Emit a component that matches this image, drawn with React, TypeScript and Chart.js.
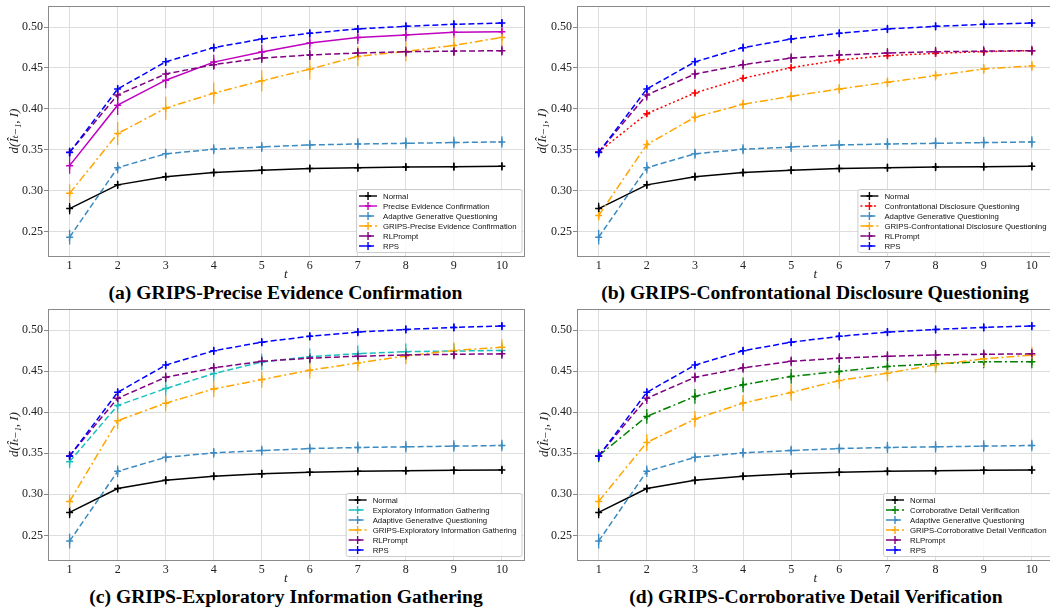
import React, { useEffect, useRef } from 'react';
import { Chart, registerables } from 'chart.js';

Chart.register(...registerables);

// ---------- data ----------
const tSteps = [1, 2, 3, 4, 5, 6, 7, 8, 9, 10];
const yTickValues = [0.25, 0.3, 0.35, 0.4, 0.45, 0.5];

const normalMean = [0.278, 0.307, 0.317, 0.322, 0.325, 0.327, 0.328, 0.3288, 0.3292, 0.3297];
const normalErr = [0.007, 0.005, 0.005, 0.005, 0.005, 0.005, 0.005, 0.005, 0.005, 0.005];

const agqMean = [0.243, 0.328, 0.345, 0.3505, 0.3533, 0.3558, 0.357, 0.3578, 0.3587, 0.3595];
const agqErr = [0.009, 0.007, 0.006, 0.006, 0.006, 0.006, 0.007, 0.007, 0.007, 0.007];

const rlpromptMean = [0.347, 0.417, 0.4425, 0.454, 0.462, 0.4658, 0.4682, 0.4698, 0.4705, 0.4711];
const rlpromptErr = [0.005, 0.007, 0.006, 0.006, 0.006, 0.006, 0.006, 0.006, 0.006, 0.006];

const rpsMean = [0.3465, 0.4242, 0.4574, 0.4748, 0.4853, 0.4924, 0.4976, 0.5008, 0.5033, 0.5049];
const rpsErr = [0.006, 0.005, 0.005, 0.005, 0.005, 0.005, 0.005, 0.005, 0.005, 0.005];

const pecMean = [0.3305, 0.4044, 0.435, 0.4571, 0.4694, 0.4804, 0.4873, 0.4902, 0.4935, 0.4943];
const pecErr = [0.01, 0.012, 0.01, 0.009, 0.009, 0.008, 0.008, 0.008, 0.007, 0.007];
const gripsPecMean = [0.2966, 0.3697, 0.4007, 0.4191, 0.4342, 0.4485, 0.4641, 0.4702, 0.4775, 0.4873];
const gripsPecErr = [0.011, 0.014, 0.014, 0.013, 0.013, 0.013, 0.012, 0.012, 0.012, 0.011];

const cdqMean = [0.3473, 0.394, 0.4194, 0.4373, 0.4503, 0.4597, 0.465, 0.4678, 0.4699, 0.4711];
const cdqErr = [0.004, 0.004, 0.004, 0.004, 0.004, 0.004, 0.004, 0.004, 0.004, 0.004];
const gripsCdqMean = [0.2695, 0.3563, 0.3897, 0.4055, 0.4153, 0.4243, 0.4324, 0.4406, 0.4487, 0.4524];
const gripsCdqErr = [0.006, 0.006, 0.006, 0.006, 0.006, 0.006, 0.006, 0.006, 0.006, 0.006];

const eigMean = [0.3398, 0.4082, 0.4288, 0.447, 0.4612, 0.4676, 0.4713, 0.4737, 0.4745, 0.4753];
const eigErr = [0.008, 0.01, 0.01, 0.01, 0.01, 0.01, 0.01, 0.01, 0.009, 0.009];
const gripsEigMean = [0.2913, 0.3896, 0.411, 0.4284, 0.4397, 0.4511, 0.46, 0.4685, 0.4753, 0.479];
const gripsEigErr = [0.008, 0.01, 0.01, 0.01, 0.01, 0.01, 0.01, 0.01, 0.01, 0.01];

const cdvMean = [0.347, 0.3949, 0.4192, 0.4334, 0.4436, 0.4497, 0.4558, 0.459, 0.4614, 0.4614];
const cdvErr = [0.008, 0.009, 0.009, 0.009, 0.009, 0.008, 0.008, 0.008, 0.008, 0.008];
const gripsCdvMean = [0.2914, 0.3632, 0.3916, 0.4111, 0.4241, 0.4387, 0.4476, 0.4578, 0.4651, 0.4696];
const gripsCdvErr = [0.008, 0.01, 0.01, 0.01, 0.01, 0.01, 0.01, 0.01, 0.01, 0.01];

const captions = [
  '(a) GRIPS-Precise Evidence Confirmation',
  '(b) GRIPS-Confrontational Disclosure Questioning',
  '(c) GRIPS-Exploratory Information Gathering',
  '(d) GRIPS-Corroborative Detail Verification',
];

// ---------- styles ----------
const DASHED = [6, 3];
const DASHDOT = [8, 3, 2, 3];
const DOTTED = [2, 2.5];
const SOLID: number[] = [];

const SERIF = '"Liberation Serif", "DejaVu Serif", serif';
const SANS = '"Liberation Sans", "DejaVu Sans", sans-serif';

type S = { label: string; mean: number[]; err: number[]; color: string; dash: number[] };

const commonNormal: S = { label: 'Normal', mean: normalMean, err: normalErr, color: '#000000', dash: SOLID };
const commonAgq: S = { label: 'Adaptive Generative Questioning', mean: agqMean, err: agqErr, color: '#3b8bc2', dash: DASHED };
const commonRl: S = { label: 'RLPrompt', mean: rlpromptMean, err: rlpromptErr, color: '#800080', dash: DASHED };
const commonRps: S = { label: 'RPS', mean: rpsMean, err: rpsErr, color: '#0000ff', dash: DASHED };

const panels: S[][] = [
  [
    commonNormal,
    { label: 'Precise Evidence Confirmation', mean: pecMean, err: pecErr, color: '#c000c0', dash: SOLID },
    commonAgq,
    { label: 'GRIPS-Precise Evidence Confirmation', mean: gripsPecMean, err: gripsPecErr, color: '#ffa500', dash: DASHDOT },
    commonRl,
    commonRps,
  ],
  [
    commonNormal,
    { label: 'Confrontational Disclosure Questioning', mean: cdqMean, err: cdqErr, color: '#ff0000', dash: DOTTED },
    commonAgq,
    { label: 'GRIPS-Confrontational Disclosure Questioning', mean: gripsCdqMean, err: gripsCdqErr, color: '#ffa500', dash: DASHDOT },
    commonRl,
    commonRps,
  ],
  [
    commonNormal,
    { label: 'Exploratory Information Gathering', mean: eigMean, err: eigErr, color: '#17bfbf', dash: DASHED },
    commonAgq,
    { label: 'GRIPS-Exploratory Information Gathering', mean: gripsEigMean, err: gripsEigErr, color: '#ffa500', dash: DASHDOT },
    commonRl,
    commonRps,
  ],
  [
    commonNormal,
    { label: 'Corroborative Detail Verification', mean: cdvMean, err: cdvErr, color: '#008000', dash: DASHDOT },
    commonAgq,
    { label: 'GRIPS-Corroborative Detail Verification', mean: gripsCdvMean, err: gripsCdvErr, color: '#ffa500', dash: DASHDOT },
    commonRl,
    commonRps,
  ],
];

// panel placement
const layouts = [
  { left: 0, top: 0, width: 525, height: 282, yAxisW: 48, yTitlePad: 7, capX: 285.5, capY: 293 },
  { left: 525, top: 0, width: 530, height: 282, yAxisW: 52, yTitlePad: 10, capX: 815, capY: 293 },
  { left: 0, top: 303, width: 525, height: 283, yAxisW: 48, yTitlePad: 7, capX: 286, capY: 597 },
  { left: 525, top: 303, width: 530, height: 283, yAxisW: 52, yTitlePad: 12, capX: 816, capY: 597 },
];

// ---------- plugins ----------
const errorBarPlugin = {
  id: 'errorBars',
  beforeDatasetsDraw(chart: any) {
    const { ctx } = chart;
    const ys = chart.scales.y;
    chart.data.datasets.forEach((ds: any, i: number) => {
      const meta = chart.getDatasetMeta(i);
      ctx.save();
      ctx.strokeStyle = ds.borderColor;
      ctx.lineWidth = 1.3;
      ctx.setLineDash([]);
      meta.data.forEach((pt: any, j: number) => {
        const v = ds.data[j].y;
        const e = ds.errors[j];
        ctx.beginPath();
        ctx.moveTo(pt.x, ys.getPixelForValue(v - e));
        ctx.lineTo(pt.x, ys.getPixelForValue(v + e));
        ctx.stroke();
      });
      ctx.restore();
    });
  },
};

const framePlugin = {
  id: 'frame',
  afterDatasetsDraw(chart: any) {
    const { ctx, chartArea: a } = chart;
    ctx.save();
    ctx.strokeStyle = '#8a8a8a';
    ctx.lineWidth = 1;
    ctx.strokeRect(Math.round(a.left) + 0.5, Math.round(a.top) + 0.5, Math.round(a.right - a.left), Math.round(a.bottom - a.top));
    ctx.restore();
  },
};

const boxLegendPlugin = {
  id: 'boxLegend',
  afterDraw(chart: any) {
    const { ctx, chartArea: a } = chart;
    const dsets = chart.data.datasets;
    ctx.save();
    ctx.font = '7.8px ' + SANS;
    let textW = 0;
    dsets.forEach((d: any) => {
      textW = Math.max(textW, ctx.measureText(d.label).width);
    });
    const rowH = 10;
    const boxW = 27 + textW + 5;
    const boxH = 7 + rowH * (dsets.length - 1) + 6;
    const right = a.right - 2;
    const bottom = a.bottom - 4;
    const x0 = right - boxW;
    const y0 = bottom - boxH;
    ctx.beginPath();
    if (ctx.roundRect) ctx.roundRect(x0 + 0.5, y0 + 0.5, boxW, boxH, 2);
    else ctx.rect(x0 + 0.5, y0 + 0.5, boxW, boxH);
    ctx.fillStyle = 'rgba(255,255,255,0.85)';
    ctx.fill();
    ctx.strokeStyle = '#cccccc';
    ctx.lineWidth = 1;
    ctx.stroke();
    dsets.forEach((d: any, i: number) => {
      const cy = y0 + 7 + i * rowH;
      const sx0 = x0 + 3;
      const sx1 = x0 + 21;
      const cx = (sx0 + sx1) / 2;
      ctx.strokeStyle = d.borderColor;
      ctx.lineWidth = 1.4;
      ctx.setLineDash(d.borderDash || []);
      ctx.beginPath();
      ctx.moveTo(sx0, cy);
      ctx.lineTo(sx1, cy);
      ctx.stroke();
      ctx.setLineDash([]);
      ctx.beginPath();
      ctx.moveTo(cx, cy - 4);
      ctx.lineTo(cx, cy + 4);
      ctx.moveTo(cx - 3, cy);
      ctx.lineTo(cx + 3, cy);
      ctx.stroke();
      ctx.fillStyle = '#111111';
      ctx.textAlign = 'left';
      ctx.textBaseline = 'middle';
      ctx.fillText(d.label, x0 + 27, cy + 0.5);
    });
    ctx.restore();
  },
};

function buildConfig(series: S[], lay: (typeof layouts)[number]): any {
  const n = series.length;
  return {
    type: 'line',
    data: {
      datasets: series.map((s, i) => ({
        label: s.label,
        data: tSteps.map((t, j) => ({ x: t, y: s.mean[j] })),
        errors: s.err,
        borderColor: s.color,
        backgroundColor: s.color,
        borderDash: s.dash,
        borderWidth: 1.5,
        pointStyle: 'cross',
        pointRadius: 3.5,
        pointBorderWidth: 1.5,
        pointBorderColor: s.color,
        tension: 0,
        fill: false,
        order: n - i,
      })),
    },
    options: {
      animation: false,
      responsive: false,
      maintainAspectRatio: false,
      devicePixelRatio: 1,
      layout: { autoPadding: false, padding: { top: 6, right: 1.5, left: 0, bottom: 0 } },
      plugins: {
        legend: { display: false },
        tooltip: { enabled: false },
        title: { display: false },
      },
      scales: {
        x: {
          type: 'linear',
          min: 0.55,
          max: 10.45,
          afterBuildTicks: (s: any) => {
            s.ticks = tSteps.map((v) => ({ value: v }));
          },
          afterFit: (s: any) => {
            s.height = 26;
            s.paddingLeft = 0;
            s.paddingRight = 0;
          },
          grid: { color: '#dddddd', lineWidth: 1, drawTicks: false },
          border: { display: false },
          ticks: {
            padding: 3,
            maxRotation: 0,
            autoSkip: false,
            color: '#222222',
            font: { family: SERIF, size: 12 },
            callback: (v: any) => String(v),
          },
          title: {
            display: true,
            text: 't',
            color: '#222222',
            font: { family: SERIF, size: 13, style: 'italic' },
            padding: { top: 0, bottom: 0 },
          },
        },
        y: {
          type: 'linear',
          min: 0.22,
          max: 0.5257,
          afterBuildTicks: (s: any) => {
            s.ticks = yTickValues.map((v) => ({ value: v }));
          },
          afterFit: (s: any) => {
            s.width = lay.yAxisW;
            s.paddingTop = 0;
            s.paddingBottom = 0;
          },
          grid: { color: '#dddddd', lineWidth: 1, drawTicks: true, tickLength: 4, tickColor: '#8a8a8a' },
          border: { display: false },
          ticks: {
            padding: 1,
            color: '#222222',
            font: { family: SERIF, size: 12 },
            callback: (v: any) => Number(v).toFixed(2),
          },
          title: {
            display: true,
            text: 'd(Îₜ₋₁, I)',
            color: '#222222',
            font: { family: SERIF, size: 13, style: 'italic' },
            padding: { top: lay.yTitlePad, bottom: 0 },
          },
        },
      },
    },
    plugins: [errorBarPlugin, framePlugin, boxLegendPlugin],
  };
}

function Panel({ idx }: { idx: number }) {
  const ref = useRef<HTMLCanvasElement | null>(null);
  const lay = layouts[idx];
  useEffect(() => {
    if (!ref.current) return;
    const chart = new Chart(ref.current, buildConfig(panels[idx], lay));
    return () => chart.destroy();
  }, [idx]);
  return (
    <>
      <canvas
        ref={ref}
        width={lay.width}
        height={lay.height}
        style={{ position: 'absolute', left: lay.left, top: lay.top, width: lay.width, height: lay.height }}
      />
      <div
        style={{
          position: 'absolute',
          left: lay.capX - 300,
          top: lay.capY - 11,
          width: 600,
          height: 22,
          lineHeight: '22px',
          textAlign: 'center',
          fontFamily: SERIF,
          fontWeight: 'bold',
          fontSize: 19.6,
          color: '#000',
          whiteSpace: 'nowrap',
        }}
      >
        {captions[idx]}
      </div>
    </>
  );
}

export default function App() {
  return (
    <div
      style={{
        position: 'absolute',
        left: 0,
        top: 0,
        width: 1050,
        height: 608,
        overflow: 'hidden',
        background: '#ffffff',
      }}
    >
      {[0, 1, 2, 3].map((i) => (
        <Panel key={i} idx={i} />
      ))}
    </div>
  );
}
